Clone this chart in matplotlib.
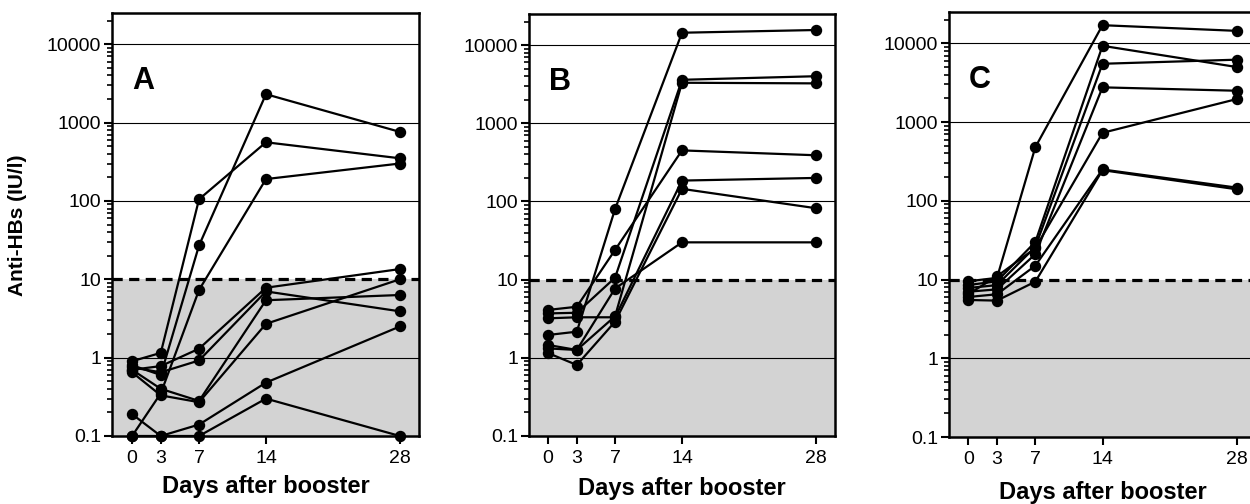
import matplotlib
matplotlib.use("Agg")
import matplotlib.pyplot as plt
from matplotlib.ticker import FixedLocator, FixedFormatter, LogLocator, NullFormatter

plt.rcParams['font.family'] = ['Liberation Sans', 'DejaVu Sans']

days = [0, 3, 7, 14, 28]

# Anti-HBs titres (IU/l), one row per subject
group_a = [
    [0.9, 1.15, 105, 560, 350],
    [0.8, 0.6, 27, 2300, 760],
    [0.1, 0.35, 7.3, 190, 300],
    [0.7, 0.78, 1.3, 7.8, 13.5],
    [0.75, 0.65, 0.92, 7.0, 3.9],
    [0.7, 0.4, 0.28, 5.4, 6.3],
    [0.65, 0.33, 0.27, 2.7, 10],
    [0.19, 0.1, 0.14, 0.48, 2.5],
    [0.1, 0.1, 0.1, 0.3, 0.1],
]
group_b = [
    [4.1, 4.5, 24, 450, 390],
    [3.7, 3.77, 10.6, 3600, 4000],
    [3.2, 3.3, 3.3, 185, 200],
    [1.96, 2.16, 80, 14400, 15600],
    [1.46, 1.26, 3.4, 3300, 3240],
    [1.32, 1.26, 7.7, 30, 30],
    [1.15, 0.81, 2.9, 145, 82],
]
group_c = [
    [9.5, 10.5, 480, 17000, 14400],
    [8.5, 9.5, 30, 9300, 5000],
    [7.8, 8.5, 26, 5500, 6200],
    [7.0, 7.5, 21, 2760, 2500],
    [6.5, 11, 25, 730, 1960],
    [6.0, 6.5, 15, 250, 147],
    [5.5, 5.4, 9.4, 245, 140],
]
panel_letters = ["A", "B", "C"]
ytick_vals = [0.1, 1, 10, 100, 1000, 10000]
ytick_labels = ["0.1", "1", "10", "100", "1000", "10000"]
grid_vals = [1, 100, 1000, 10000]
cutoff = 10

W, H = 1250, 504
fig = plt.figure(figsize=(12.5, 5.04), dpi=100)

# axes boxes in pixels: left, top, right, bottom
boxes = [(112, 13, 419, 436), (529, 14, 835, 436), (949, 12, 1256, 437)]
xlims = [(-2.1, 30), (-2.0, 30), (-2.0, 30)]
xlabel_y = [486, 488, 493]

for i, (data, letter) in enumerate(zip([group_a, group_b, group_c], panel_letters)):
    l, t, r, b = boxes[i]
    ax = fig.add_axes([l / W, (H - b) / H, (r - l) / W, (b - t) / H])
    ax.set_yscale("log")
    ax.set_ylim(0.1, 25000)
    ax.set_xlim(*xlims[i])

    ax.axhspan(0.1, cutoff, color="#d3d3d3", zorder=0, lw=0)
    for g in grid_vals:
        ax.axhline(g, color="black", lw=0.8, zorder=1)
    ax.axhline(cutoff, color="black", lw=2.3, ls=(0, (3.2, 2.0)), zorder=2)

    for subj in data:
        ax.plot(days, subj, color="black", lw=1.6, marker="o", ms=7.2,
                zorder=3, clip_on=False)

    ax.text(0.065, 0.875, letter, transform=ax.transAxes, fontsize=22,
            fontweight="bold", ha="left", va="top")

    for s in ax.spines.values():
        s.set_linewidth(1.8)
        s.set_zorder(4)

    ax.yaxis.set_major_locator(FixedLocator(ytick_vals))
    ax.yaxis.set_major_formatter(FixedFormatter(ytick_labels))
    ax.yaxis.set_minor_locator(LogLocator(base=10, subs=range(2, 10)))
    ax.yaxis.set_minor_formatter(NullFormatter())
    ax.set_xticks(days)
    ax.set_xticklabels([str(d) for d in days])
    ax.tick_params(axis="both", which="major", direction="out", length=6,
                   width=1.5, labelsize=14, color="black")
    ax.tick_params(axis="y", which="minor", direction="out", length=3.5,
                   width=1.2)
    ax.tick_params(axis="y", pad=2)
    ax.tick_params(axis="x", pad=4)

    fig.text((l + r) / 2 / W, 1 - xlabel_y[i] / H, "Days after booster",
             fontsize=17, fontweight="bold", ha="center", va="center")

fig.text(18 / W, 1 - 225 / H, "Anti-HBs (IU/l)", rotation=90, fontsize=15,
         fontweight="bold", ha="center", va="center")

fig.savefig("out.png", dpi=100)
